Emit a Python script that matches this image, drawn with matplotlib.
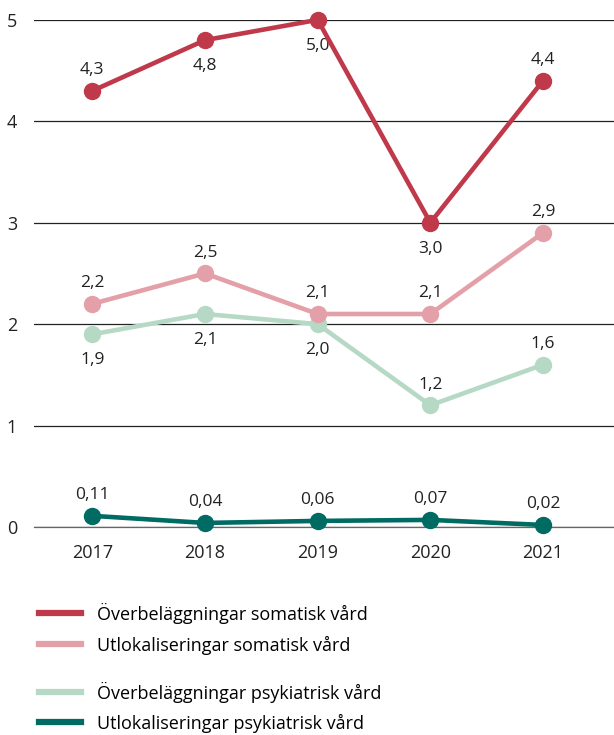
import matplotlib.pyplot as plt
from matplotlib.lines import Line2D

plt.rcParams['font.family'] = ['Open Sans', 'DejaVu Sans']

years = ['2017', '2018', '2019', '2020', '2021']
over_somatisk = [4.3, 4.8, 5.0, 3.0, 4.4]
utlok_somatisk = [2.2, 2.5, 2.1, 2.1, 2.9]
over_psyk = [1.9, 2.1, 2.0, 1.2, 1.6]
utlok_psyk = [0.11, 0.04, 0.06, 0.07, 0.02]

labels_over_somatisk = ['4,3', '4,8', '5,0', '3,0', '4,4']
labels_utlok_somatisk = ['2,2', '2,5', '2,1', '2,1', '2,9']
labels_over_psyk = ['1,9', '2,1', '2,0', '1,2', '1,6']
labels_utlok_psyk = ['0,11', '0,04', '0,06', '0,07', '0,02']

legend_names = ['Överbeläggningar somatisk vård', 'Utlokaliseringar somatisk vård',
                'Överbeläggningar psykiatrisk vård', 'Utlokaliseringar psykiatrisk vård']

c_red = '#c0394b'
c_pink = '#e3a0a8'
c_lgreen = '#b6d9c6'
c_teal = '#006b63'

fig = plt.figure(figsize=(6.14, 7.35), dpi=100)
ax = fig.add_axes([0.055, 0.283, 0.945, 0.690])

x = list(range(len(years)))

series = [
    (over_somatisk, labels_over_somatisk, c_red, ['a', 'b', 'b', 'b', 'a']),
    (utlok_somatisk, labels_utlok_somatisk, c_pink, ['a', 'a', 'a', 'a', 'a']),
    (over_psyk, labels_over_psyk, c_lgreen, ['b', 'b', 'b', 'a', 'a']),
    (utlok_psyk, labels_utlok_psyk, c_teal, ['a', 'a', 'a', 'a', 'a']),
]

z = 10
for vals, labs, col, pos in series[::-1]:
    ax.plot(x, vals, color=col, lw=3.3, marker='o', ms=11.5, clip_on=False, zorder=z)
    for xi, v, lab, p in zip(x, vals, labs, pos):
        dy = 9 if p == 'a' else -13
        ax.annotate(lab, (xi, v), xytext=(0, dy), textcoords='offset points',
                    ha='center', va='bottom' if p == 'a' else 'top', fontsize=12.5,
                    color='#222222')
    z += 1

ax.set_xlim(-0.52, 4.63)
ax.set_ylim(0, 5)
ax.set_yticks([0, 1, 2, 3, 4, 5])
ax.set_xticks(x)
ax.set_xticklabels(years)
ax.grid(axis='y', color='#222222', lw=0.9)
ax.axhline(0, color='#666666', lw=0.9, zorder=1, clip_on=False)
ax.set_axisbelow(True)
for s in ax.spines.values():
    s.set_visible(False)
ax.tick_params(length=0, labelsize=13, colors='#222222', pad=12)
ax.tick_params(axis='y', pad=12)

# legend: one entry per legend box so the rows can be placed freely
handle_colors = [c_red, c_pink, c_lgreen, c_teal]
row_y = [613, 645, 692, 723]
for col, name, ry in zip(handle_colors, legend_names, row_y):
    h = Line2D([], [], color=col, lw=4.5)
    fig.legend([h], [name], loc='center left', bbox_to_anchor=(0.063, 1 - ry / 735),
               frameon=False, fontsize=13, handlelength=2.35, handletextpad=0.9,
               borderaxespad=0, borderpad=0)

plt.savefig('out.png', dpi=100)
